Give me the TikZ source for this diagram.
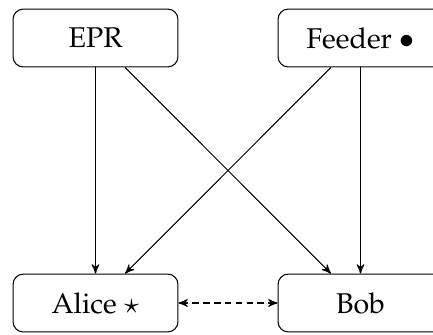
\documentclass[tikz,border=0pt]{standalone}
\usepackage[T1]{fontenc}
\usepackage{mathpazo}
\usepackage{amsmath}
\usepackage{tikz}
\usetikzlibrary{positioning,shapes,arrows}

\begin{document}
\begin{tikzpicture}[x=0.385pt,y=-0.385pt,font=\fontsize{11}{13}\selectfont]
\tikzstyle{party}=[draw,rounded corners=4pt,minimum width=63.5pt,minimum height=22.3pt,inner sep=0pt]
\tikzstyle{link}=[->,>=stealth']
\useasboundingbox (0,0) rectangle (433,334);
\node [party] (epr) at (95.5,38) {EPR};
\node [party] (feeder) at (360.5,38) {Feeder $\bullet$};
\node [party] (alice) at (95.5,303) {Alice $\star$};
\node [party] (bob) at (360.5,303) {Bob};
\draw [link] (epr) -- (alice);
\draw [link] (feeder) -- (bob);
\draw [link] ([xshift=0.4cm]epr.south) -- ([xshift=-0.4cm]bob.north);
\draw [link] ([xshift=-0.4cm]feeder.south) -- ([xshift=0.4cm]alice.north);
\draw [<->,>=stealth',dash pattern=on 2.6pt off 1.6pt] (alice) -- (bob);
\end{tikzpicture}
\end{document}
